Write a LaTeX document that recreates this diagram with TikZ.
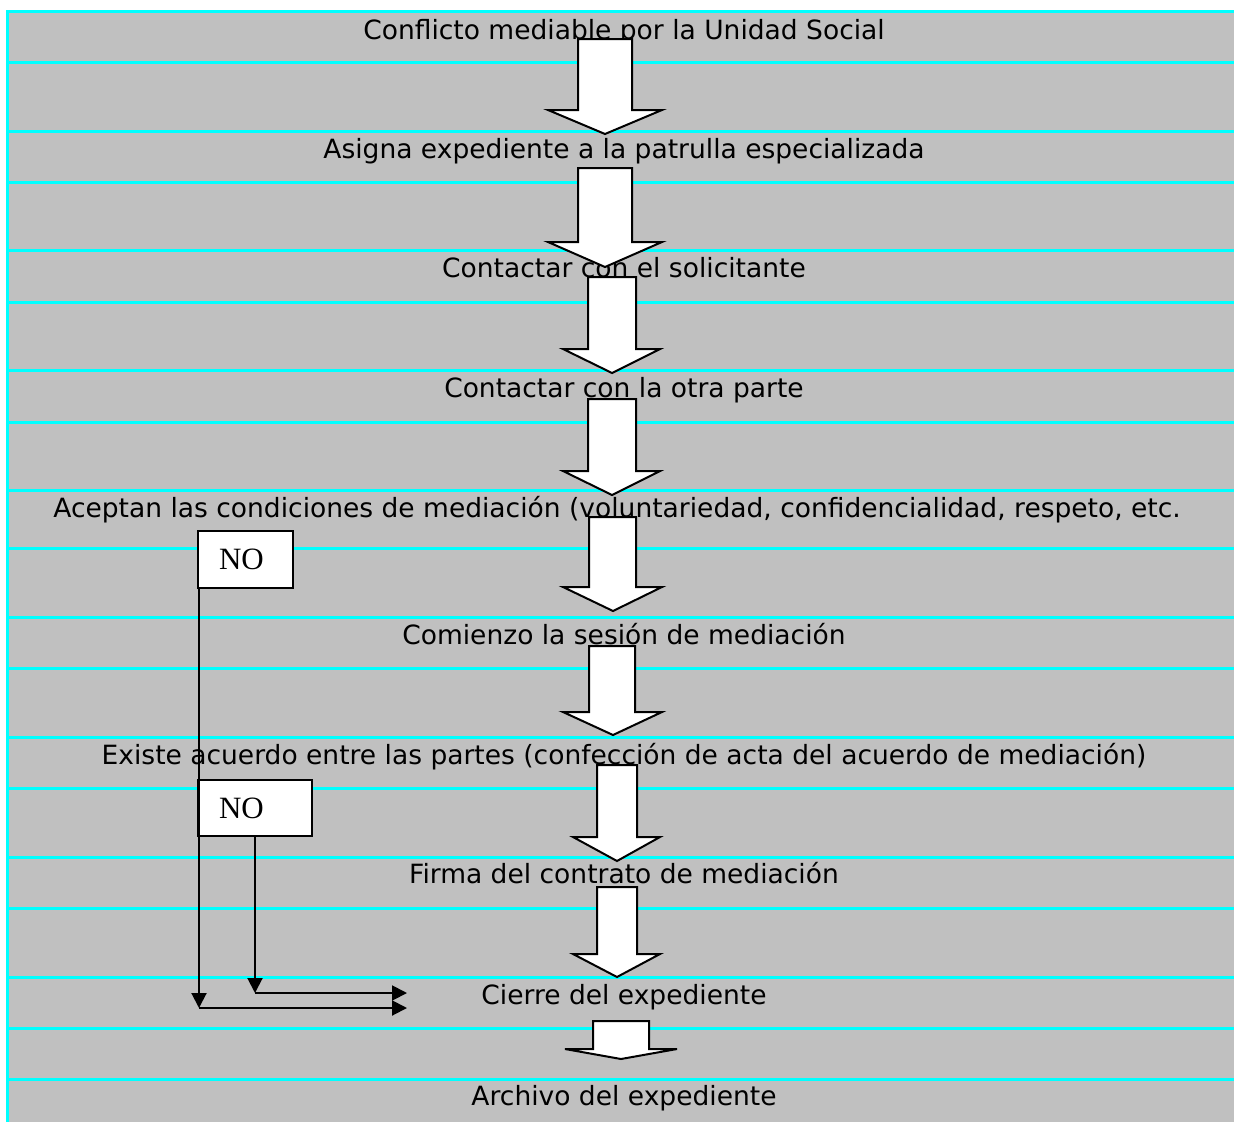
\documentclass[tikz,border=0pt]{standalone}
\usepackage{fontspec}
\setmainfont{DejaVu Sans}
\newfontfamily\serifno{Liberation Serif}
\usetikzlibrary{arrows.meta,calc}
\definecolor{bandgray}{HTML}{C0C0C0}
\definecolor{rulecyan}{HTML}{00FFFF}
\tikzset{
  rowtext/.style={anchor=base, inner sep=0pt, font=\fontsize{26.5}{30}\selectfont},
  blockarrow/.style={draw=black, fill=white, line width=2pt, line join=miter},
  nobox/.style={draw=black, fill=white, line width=2pt, anchor=north west, inner xsep=21pt, inner ysep=0pt, align=left, font=\serifno\fontsize{31}{34}\selectfont},
  noline/.style={draw=black, line width=2pt, -{Triangle[length=15pt,width=15pt]}},
  cyanrule/.style={draw=rulecyan, line width=3pt},
}
\begin{document}
\begin{tikzpicture}[x=1pt,y=-1pt]
\useasboundingbox (0,0) rectangle (1234,1122);
\fill[white] (0,0) rectangle (1234,1122);
\fill[bandgray] (6,10) rectangle (1234,1122);
\foreach \yy in {11.5,62.5,131.5,182.5,250.5,302.5,370.5,422.5,490.5,548.5,617.5,668.5,737.5,788.5,857,908.5,977,1028,1079}
  \draw[cyanrule] (6,\yy) -- (1234,\yy);
\draw[cyanrule] (7.5,10) -- (7.5,1122);

\node[rowtext] (t1) at (624,39) {Conflicto mediable por la Unidad Social};
\node[rowtext] (t2) at (624,158) {Asigna expediente a la patrulla especializada};
\node[rowtext] (t3) at (624,277) {Contactar con el solicitante};
\node[rowtext] (t4) at (624,397) {Contactar con la otra parte};
\node[rowtext] (t5) at (617,517) {Aceptan las condiciones de mediación (voluntariedad, confidencialidad, respeto, etc.};
\node[rowtext] (t6) at (624,644) {Comienzo la sesión de mediación};
\node[rowtext] (t7) at (624,764) {Existe acuerdo entre las partes (confección de acta del acuerdo de mediación)};
\node[rowtext] (t8) at (624,883) {Firma del contrato de mediación};
\node[rowtext] (t9) at (624,1004) {Cierre del expediente};
\node[rowtext] (t10) at (624,1105) {Archivo del expediente};

% block arrows
\path[blockarrow] (578,39) -- (632,39) -- (632,110) -- (662,110) -- (605,134) -- (548,110) -- (578,110) -- cycle;
\path[blockarrow] (578,168) -- (632,168) -- (632,242) -- (662,242) -- (605,267) -- (548,242) -- (578,242) -- cycle;
\path[blockarrow] (588,277) -- (636,277) -- (636,349) -- (660,349) -- (612,373) -- (563,349) -- (588,349) -- cycle;
\path[blockarrow] (588,399) -- (636,399) -- (636,471) -- (660,471) -- (612,495) -- (563,471) -- (588,471) -- cycle;
\path[blockarrow] (589,517) -- (636,517) -- (636,587) -- (662,587) -- (613,611) -- (563,587) -- (589,587) -- cycle;
\path[blockarrow] (589,646) -- (635,646) -- (635,712) -- (662,712) -- (613,735) -- (563,712) -- (589,712) -- cycle;
\path[blockarrow] (597,765) -- (637,765) -- (637,837) -- (660,837) -- (617,861) -- (573,837) -- (597,837) -- cycle;
\path[blockarrow] (597,887) -- (637,887) -- (637,954) -- (660,954) -- (617,977) -- (573,954) -- (597,954) -- cycle;
\path[blockarrow] (593,1021) -- (649,1021) -- (649,1049) -- (677,1049) -- (621,1059) -- (565,1049) -- (593,1049) -- cycle;

% NO boxes
\node[nobox, text width=53pt, minimum height=57pt] (no1) at (197,530) {NO};
\node[nobox, text width=72pt, minimum height=56pt] (no2) at (197,779) {NO};

\coordinate (c1) at (199,1008);
\coordinate (c2) at (255,993);
\coordinate (e1) at (407,1008);
\coordinate (e2) at (407,993);
\draw[noline] (no1.south -| c1) -- (c1);
\draw[noline] (c1) -- (e1);
\draw[noline] (no2.south -| c2) -- (c2);
\draw[noline] (c2) -- (e2);
\end{tikzpicture}
\end{document}
